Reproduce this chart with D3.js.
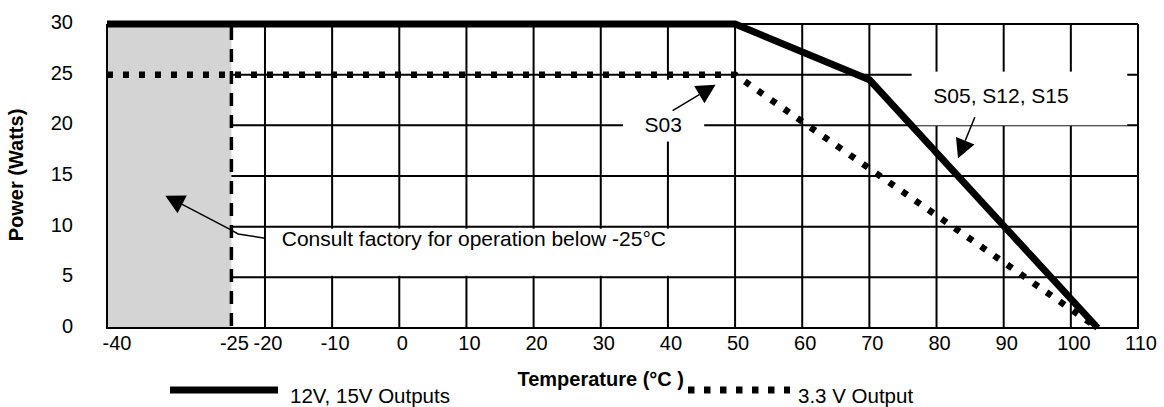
<!DOCTYPE html>
<html>
<head>
<meta charset="utf-8">
<script src="https://cdn.jsdelivr.net/npm/d3@7"></script>
<style>
  body { margin: 0; background: #fff; }
  svg { display: block; font-family: "Liberation Sans", Arial, sans-serif; }
</style>
</head>
<body>
<div id="chart"></div>
<script>
var svgWidth = 1164;
var svgHeight = 407;

// axis ticks
var tempTicks = [-40, -25, -20, -10, 0, 10, 20, 30, 40, 50, 60, 70, 80, 90, 100, 110];
var gridTemps = [-20, -10, 0, 10, 20, 30, 40, 50, 60, 70, 80, 90, 100, 110];
var powerTicks = [0, 5, 10, 15, 20, 25, 30];
var gridPowers = [5, 10, 15, 20, 25];

// derating curves [temperature, watts]
var outputs12V15V = [[-40, 30], [50, 30], [70, 24.5], [104, 0]];
var output3V3 = [[-40, 25], [50, 25], [104, 0]];

// annotation boxes, labels and arrows (data units)
var labelBoxes = [
    { x0: 33.3, x1: 45.4, y0: 24.5, y1: 18.4 },
    { x0: 76.3, x1: 108.4, y0: 25.3, y1: 20.0 }
];
var labels = [
    { text: "S03", x: 39.3, y: 20.1 },
    { text: "S05, S12, S15", x: 89.6, y: 22.9 }
];
var arrows = [
    [[40.7, 21.45], [47.1, 24.0]],
    [[85.7, 20.8], [83.2, 16.75]],
    [[-20, 8.85], [-24.0, 9.28], [-25.17, 9.74], [-32.97, 13.06]]
];
var note = { text: "Consult factory for operation below -25°C", x: -17.5, y: 8.8 };

var x = d3.scaleLinear().domain([-40, -25, 110]).range([107, 231.4, 1138]);
var y = d3.scaleLinear().domain([0, 30]).range([328, 24]);

var svg = d3.select("#chart")
    .append("svg")
    .attr("width", svgWidth)
    .attr("height", svgHeight);

// shaded region below -25
svg.append("rect")
    .attr("x", x(-40))
    .attr("y", y(30))
    .attr("width", x(-25) - x(-40))
    .attr("height", y(0) - y(30))
    .attr("fill", "#d4d4d4");

var grid = svg.append("g")
    .attr("stroke", "#000")
    .attr("stroke-width", 2);

grid.selectAll(".h")
    .data(gridPowers)
    .enter()
    .append("line")
    .attr("x1", x(-25))
    .attr("x2", x(110))
    .attr("y1", d => y(d))
    .attr("y2", d => y(d));

grid.selectAll(".v")
    .data(gridTemps)
    .enter()
    .append("line")
    .attr("x1", d => x(d))
    .attr("x2", d => x(d))
    .attr("y1", y(30))
    .attr("y2", y(0));

// frame
grid.append("line").attr("x1", x(-40)).attr("x2", x(110)).attr("y1", y(30)).attr("y2", y(30));
grid.append("line").attr("x1", x(-40) - 1).attr("x2", x(110) + 1).attr("y1", y(0)).attr("y2", y(0));
grid.append("line").attr("x1", x(-40)).attr("x2", x(-40)).attr("y1", y(30)).attr("y2", y(0));

// white boxes behind the labels
svg.selectAll(".box")
    .data(labelBoxes)
    .enter()
    .append("rect")
    .attr("x", d => x(d.x0))
    .attr("y", d => y(d.y0))
    .attr("width", d => x(d.x1) - x(d.x0))
    .attr("height", d => y(d.y1) - y(d.y0))
    .attr("fill", "#fff");

var noteBox = svg.append("rect").attr("fill", "#fff");

// -25 limit
svg.append("line")
    .attr("x1", x(-25))
    .attr("x2", x(-25))
    .attr("y1", y(30) + 3)
    .attr("y2", y(0))
    .attr("stroke", "#000")
    .attr("stroke-width", 3.5)
    .attr("stroke-dasharray", "13,9");

var line = d3.line()
    .x(d => x(d[0]))
    .y(d => y(d[1]));

svg.append("path")
    .attr("d", line(outputs12V15V))
    .attr("fill", "none")
    .attr("stroke", "#000")
    .attr("stroke-width", 7)
    .attr("stroke-linejoin", "round");

svg.append("path")
    .attr("d", line(output3V3))
    .attr("fill", "none")
    .attr("stroke", "#000")
    .attr("stroke-width", 6.5)
    .attr("stroke-dasharray", "6,10");

// arrows
arrows.forEach(pts => {
    var p = pts.map(d => [x(d[0]), y(d[1])]);
    var tip = p[p.length - 1];
    var prev = p[p.length - 2];
    var dx = tip[0] - prev[0], dy = tip[1] - prev[1];
    var len = Math.sqrt(dx * dx + dy * dy);
    var ux = dx / len, uy = dy / len;
    var base = [tip[0] - ux * 19, tip[1] - uy * 19];
    var shaft = p.slice(0, -1).concat([base]);
    svg.append("path")
        .attr("d", d3.line()(shaft))
        .attr("fill", "none")
        .attr("stroke", "#000")
        .attr("stroke-width", 1.5);
    svg.append("path")
        .attr("d", d3.line()([
            tip,
            [base[0] - uy * 10, base[1] + ux * 10],
            [base[0] + uy * 10, base[1] - ux * 10]
        ]) + "Z")
        .attr("fill", "#000");
});

svg.selectAll(".label")
    .data(labels)
    .enter()
    .append("text")
    .attr("x", d => x(d.x))
    .attr("y", d => y(d.y))
    .attr("dy", "0.35em")
    .attr("text-anchor", "middle")
    .attr("font-size", 21)
    .text(d => d.text);

var noteText = svg.append("text")
    .attr("x", x(note.x))
    .attr("y", y(note.y))
    .attr("dy", "0.35em")
    .attr("font-size", 21)
    .text(note.text);

var bb = noteText.node().getBBox();
noteBox
    .attr("x", x(-20) + 1)
    .attr("y", y(9.8))
    .attr("width", bb.x + bb.width + 5 - x(-20) - 1)
    .attr("height", y(5.15) - y(9.8));

// tick labels
svg.selectAll(".xt")
    .data(tempTicks)
    .enter()
    .append("text")
    .attr("x", d => d == -40 ? x(d) + 10 : x(d) + 3)
    .attr("y", 350)
    .attr("text-anchor", "middle")
    .attr("font-size", 20)
    .text(d => d);

svg.selectAll(".yt")
    .data(powerTicks)
    .enter()
    .append("text")
    .attr("x", 73)
    .attr("y", d => y(d) - 2)
    .attr("dy", "0.35em")
    .attr("text-anchor", "end")
    .attr("font-size", 20)
    .text(d => d);

svg.append("text")
    .attr("x", x(30))
    .attr("y", 386)
    .attr("text-anchor", "middle")
    .attr("font-size", 20)
    .attr("font-weight", "bold")
    .text("Temperature (°C )");

svg.append("text")
    .attr("transform", "translate(23, 175) rotate(-90)")
    .attr("text-anchor", "middle")
    .attr("font-size", 20)
    .attr("font-weight", "bold")
    .text("Power (Watts)");

// legend
svg.append("line")
    .attr("x1", 170).attr("x2", 278)
    .attr("y1", 390).attr("y2", 390)
    .attr("stroke", "#000")
    .attr("stroke-width", 7);

svg.append("text")
    .attr("x", 290).attr("y", 403)
    .attr("font-size", 20.5)
    .text("12V, 15V Outputs");

svg.append("line")
    .attr("x1", 688).attr("x2", 790)
    .attr("y1", 390).attr("y2", 390)
    .attr("stroke", "#000")
    .attr("stroke-width", 7)
    .attr("stroke-dasharray", "6.5,9.5");

svg.append("text")
    .attr("x", 798).attr("y", 403)
    .attr("font-size", 20.5)
    .text("3.3 V Output");
</script>
</body>
</html>
